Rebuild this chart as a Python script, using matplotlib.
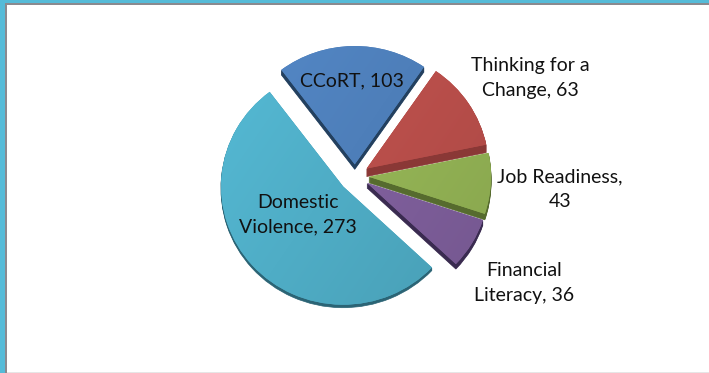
import numpy as np
import matplotlib
matplotlib.use("Agg")
import matplotlib.pyplot as plt
from matplotlib.patches import Rectangle
from matplotlib.colors import to_rgb

W, H = 709, 373

# course enrolment, anticlockwise from the large slice
names = ["Domestic Violence", "Financial Literacy", "Job Readiness", "Thinking for a Change", "CCoRT"]
counts = [273, 36, 43, 63, 103]
top_colors = ["#4FADC6", "#7F5F9C", "#94B455", "#BA4F4B", "#4E7FBA"]
side_colors = ["#2B6475", "#3A2B50", "#566B2E", "#8A3836", "#23405F"]
draw_order = [4, 3, 2, 1, 0]  # back slices first
gaps = [16, 14, 14, 14, 12]
depths = [3, 5, 6, 8, 5]

label_texts = ["Domestic\nViolence, 273", "Financial\nLiteracy, 36", "Job Readiness,\n43",
               "Thinking for a\nChange, 63", "CCoRT, 103"]
label_pos = [(298, 215), (524, 283), (560, 189), (530, 78), (352, 81)]

radius = 122
center_px = (355, 176)
squash = 0.97
start = 127

plt.rcParams["font.family"] = ["Lato", "DejaVu Sans"]
fig = plt.figure(figsize=(W / 100, H / 100), dpi=100, facecolor="white")
ax = fig.add_axes([0, 0, 1, 1])


def make_pie(dy):
    wedges, _ = ax.pie(counts, startangle=start, counterclock=True, radius=radius,
                       explode=gaps,
                       center=(center_px[0], (H - center_px[1] - dy) / squash),
                       frame=False)
    return wedges


# extruded sides: stacked copies of the pie, shifted down, each slice to its own depth
for step in range(max(depths), 0, -1):
    for i, wedge in enumerate(make_pie(step)):
        wedge.set_facecolor(side_colors[i])
        wedge.set_edgecolor(side_colors[i])
        wedge.set_linewidth(0.5)
        wedge.set_zorder(draw_order[i] * 10 + 1)
        wedge.set_visible(step <= depths[i])

# top faces with a soft left-to-right shading clipped to each wedge
yy, xx = np.mgrid[0:1:64j, 0:1:64j]
ramp = 1.07 - 0.15 * (0.6 * xx + 0.4 * yy)
for i, wedge in enumerate(make_pie(0)):
    wedge.set_facecolor(top_colors[i])
    wedge.set_edgecolor("none")
    wedge.set_zorder(draw_order[i] * 10 + 2)
    rgb = np.clip(np.dstack([ramp * c for c in to_rgb(top_colors[i])]), 0, 1)
    x0, x1 = wedge.center[0] - radius, wedge.center[0] + radius
    y0, y1 = wedge.center[1] - radius, wedge.center[1] + radius
    im = ax.imshow(rgb, extent=(x0, x1, y0, y1), origin="upper", aspect="auto",
                   interpolation="bilinear", zorder=draw_order[i] * 10 + 3)
    im.set_clip_path(wedge)

ax.set_aspect("auto")
ax.set_xlim(0, W)
ax.set_ylim(0, H / squash)
ax.axis("off")

for text, (px, py) in zip(label_texts, label_pos):
    fig.text(px / W, 1 - py / H, text, ha="center", va="center", fontsize=14,
             color="#111111", linespacing=1.52, zorder=100)

# slide frame along the top and left edges
def band(x, y, w, h, color):
    fig.patches.append(Rectangle((x / W, 1 - (y + h) / H), w / W, h / H, transform=fig.transFigure,
                                 facecolor=color, edgecolor="none", figure=fig))

band(5, 3, W - 5, 2, "#8A8A8F")
band(5, 3, 2, H - 3, "#8A8A8F")
band(0, 0, W, 3, "#55BBD8")
band(0, 0, 5, H, "#55BBD8")
band(7, 372, W - 7, 1, "#E6E6E6")

fig.savefig("out.png", dpi=100, facecolor="white")
